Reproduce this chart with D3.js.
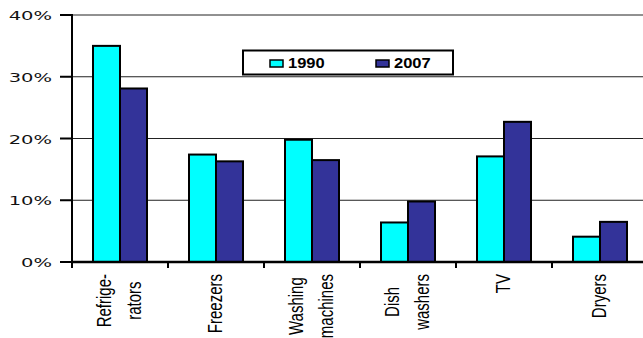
<!DOCTYPE html>
<html>
<head>
<meta charset="utf-8">
<script src="https://cdn.jsdelivr.net/npm/d3@7"></script>
<style>
  html, body { margin: 0; padding: 0; background: #fff; }
  svg { display: block; }
</style>
</head>
<body>
<svg id="chart" width="643" height="338"></svg>
<script>
const categories = ["Refrige-\nrators", "Freezers", "Washing\nmachines", "Dish\nwashers", "TV", "Dryers"];
const seriesNames = ["1990", "2007"];
const values1990 = [35, 17.4, 19.8, 6.4, 17.1, 4.1];
const values2007 = [28.1, 16.3, 16.5, 9.8, 22.7, 6.5];
const yTicks = [0, 10, 20, 30, 40];
const colors = ["#00FFFF", "#333399"];

(function () {
const svg = d3.select("#chart");
const pL = 72, pR = 648, pT = 15, pB = 262;

const x0 = d3.scaleBand().domain(categories).range([pL, pR])
  .paddingInner(0.4375).paddingOuter(0.21875);
const x1 = d3.scaleBand().domain(seriesNames).range([0, x0.bandwidth()]);
const y = d3.scaleLinear().domain([0, 40]).range([pB, pT]);

// gridlines
svg.append("g").selectAll("line").data(yTicks.filter(d => d > 0)).join("line")
  .attr("x1", pL).attr("x2", 643)
  .attr("y1", d => y(d)).attr("y2", d => y(d))
  .attr("stroke", "#222").attr("stroke-width", 1);

// legend
const lg = svg.append("g");
lg.append("rect").attr("x", 243).attr("y", 50.5).attr("width", 210).attr("height", 24)
  .attr("fill", "#fff").attr("stroke", "#000").attr("stroke-width", 2);
const legendX = [270, 376];
seriesNames.forEach((s, i) => {
  lg.append("rect").attr("x", legendX[i]).attr("y", 60).attr("width", 13).attr("height", 7)
    .attr("fill", colors[i]).attr("stroke", "#000").attr("stroke-width", 1.5);
  lg.append("text").attr("transform", `translate(${legendX[i] + 18},68) scale(1.1,1)`)
    .attr("font-family", "Liberation Sans, Arial, sans-serif").attr("font-weight", "bold")
    .attr("font-size", 15).attr("fill", "#000").text(s);
});

// bars
const data = categories.map((c, i) => ({ c, vals: [values1990[i], values2007[i]] }));
const groups = svg.append("g").selectAll("g").data(data).join("g")
  .attr("transform", d => `translate(${x0(d.c)},0)`);
groups.selectAll("rect").data(d => d.vals.map((v, i) => ({ v, s: seriesNames[i], i }))).join("rect")
  .attr("x", d => x1(d.s)).attr("width", x1.bandwidth())
  .attr("y", d => y(d.v)).attr("height", d => y(0) - y(d.v))
  .attr("fill", d => colors[d.i]).attr("stroke", "#000").attr("stroke-width", 2);

// y axis
svg.append("line").attr("x1", pL).attr("x2", pL).attr("y1", pT - 1).attr("y2", pB + 1)
  .attr("stroke", "#000").attr("stroke-width", 2);
svg.append("g").selectAll("line").data(yTicks).join("line")
  .attr("x1", 60).attr("x2", pL).attr("y1", d => y(d)).attr("y2", d => y(d))
  .attr("stroke", "#000").attr("stroke-width", 2);
svg.append("g").selectAll("text").data(yTicks).join("text")
  .attr("transform", d => `translate(52,${y(d) + 5}) scale(1.5,1)`)
  .attr("text-anchor", "end")
  .attr("font-family", "DejaVu Sans, Verdana, sans-serif").attr("font-size", 13)
  .attr("fill", "#111").text(d => d + "%");

// x axis
svg.append("line").attr("x1", pL - 1).attr("x2", 643).attr("y1", pB).attr("y2", pB)
  .attr("stroke", "#000").attr("stroke-width", 2.5);
const step = x0.step();
const boundaries = d3.range(categories.length + 1).map(i => pL + i * step);
svg.append("g").selectAll("line").data(boundaries).join("line")
  .attr("x1", d => d).attr("x2", d => d).attr("y1", pB).attr("y2", pB + 6)
  .attr("stroke", "#000").attr("stroke-width", 2);

// x labels
categories.forEach((c, i) => {
  const cx = x0(c) + x0.bandwidth() / 2 - 1;
  const lines = c.split("\n");
  const g = svg.append("g");
  const texts = lines.map((ln, j) => g.append("text")
    .attr("font-family", "Liberation Sans, Arial, sans-serif").attr("font-size", 15)
    .attr("fill", "#000").attr("text-anchor", "middle").attr("dominant-baseline", "central")
    .text(ln));
  const maxLen = d3.max(texts, t => t.node().getComputedTextLength());
  texts.forEach((t, j) => {
    const lx = cx + (j - (lines.length - 1) / 2) * 30;
    const ly = 274 + maxLen / 2;
    t.attr("transform", `translate(${lx},${ly}) rotate(-90) scale(1,1.3)`);
  });
});
})();
</script>
</body>
</html>
